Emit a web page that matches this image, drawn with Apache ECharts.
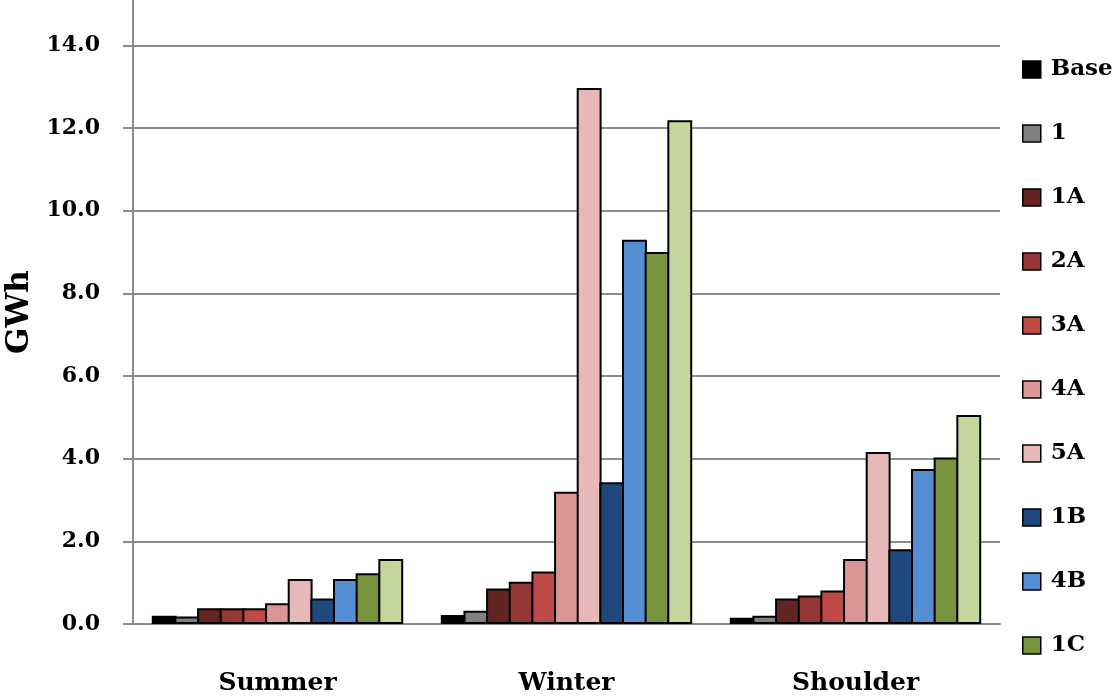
<!DOCTYPE html>
<html>
<head>
	<meta charset="utf-8">
	<title>GWh by season</title>
	<script src="https://cdn.jsdelivr.net/npm/echarts@6/dist/echarts.min.js"></script>
	<style>
		html, body {
			margin: 0;
			padding: 0;
			background: #fff;
		}
		#chart {
			width: 1119px;
			height: 698px;
		}
	</style>
</head>
<body>
	<div id="chart"></div>
	<script>
		// 数据
		var seasons = ['Summer', 'Winter', 'Shoulder'];
		var seriesNames = ['Base', '1', '1A', '2A', '3A', '4A', '5A', '1B', '4B', '1C', '4C'];
		var seriesColors = ['#000000', '#808080', '#632523', '#953735', '#be4b48', '#d99694', '#e6b9b8', '#1f497d', '#558ed5', '#77933c', '#c3d69b'];

		var base = [0.20, 0.22, 0.15];
		var s1 = [0.18, 0.32, 0.20];
		var s1A = [0.38, 0.86, 0.62];
		var s2A = [0.38, 1.02, 0.69];
		var s3A = [0.38, 1.27, 0.81];
		var s4A = [0.50, 3.20, 1.57];
		var s5A = [1.09, 12.97, 4.16];
		var s1B = [0.62, 3.43, 1.81];
		var s4B = [1.09, 9.30, 3.75];
		var s1C = [1.23, 9.00, 4.03];
		var s4C = [1.57, 12.19, 5.06];

		var allValues = [base, s1, s1A, s2A, s3A, s4A, s5A, s1B, s4B, s1C, s4C];

		var font = '"DejaVu Serif", "Liberation Serif", serif';
		var gridColor = '#8c8c8c';

		// 相邻柱子共用边框
		var series = seriesNames.map(function (name, i) {
			return {
				name: name,
				type: 'bar',
				barGap: '-9%',
				barCategoryGap: '13%',
				itemStyle: {
					color: seriesColors[i],
					borderColor: '#000',
					borderWidth: 2
				},
				data: allValues[i]
			};
		});

		var chart = echarts.init(document.getElementById('chart'), null, { renderer: 'canvas' });
		chart.setOption({
			animation: false,
			textStyle: { fontFamily: font },
			grid: {
				left: 133,
				right: 119,
				top: 0,
				bottom: 74,
				containLabel: false,
				outerBoundsMode: 'none'
			},
			legend: {
				orient: 'vertical',
				left: 1017,
				top: 53,
				icon: 'rect',
				itemWidth: 18,
				itemHeight: 17,
				itemGap: 41,
				itemStyle: { borderColor: '#000', borderWidth: 1.5 },
				textStyle: {
					fontFamily: font,
					fontWeight: 'bold',
					fontSize: 23,
					lineHeight: 22,
					color: '#000',
					padding: [0, 0, 0, 5]
				},
				data: seriesNames
			},
			xAxis: {
				type: 'category',
				data: seasons,
				axisLine: { lineStyle: { color: gridColor, width: 2 } },
				axisTick: { show: false },
				axisLabel: {
					margin: 47,
					fontFamily: font,
					fontWeight: 'bold',
					fontSize: 25,
					color: '#000'
				}
			},
			yAxis: {
				type: 'value',
				min: 0,
				max: 15.1,
				interval: 2,
				name: 'GWh',
				nameLocation: 'middle',
				nameGap: 91,
				nameTextStyle: {
					fontFamily: font,
					fontWeight: 'bold',
					fontSize: 31,
					color: '#000'
				},
				axisLine: { show: true, lineStyle: { color: gridColor, width: 2 } },
				axisTick: { show: true, length: 10, lineStyle: { color: gridColor, width: 2 } },
				axisLabel: {
					margin: 33,
					showMaxLabel: false,
					fontFamily: font,
					fontWeight: 'bold',
					fontSize: 22,
					color: '#000',
					formatter: function (v) { return v.toFixed(1); }
				},
				splitLine: {
					show: true,
					showMaxLine: false,
					lineStyle: { color: gridColor, width: 2 }
				}
			},
			series: series
		});
	</script>
</body>
</html>
